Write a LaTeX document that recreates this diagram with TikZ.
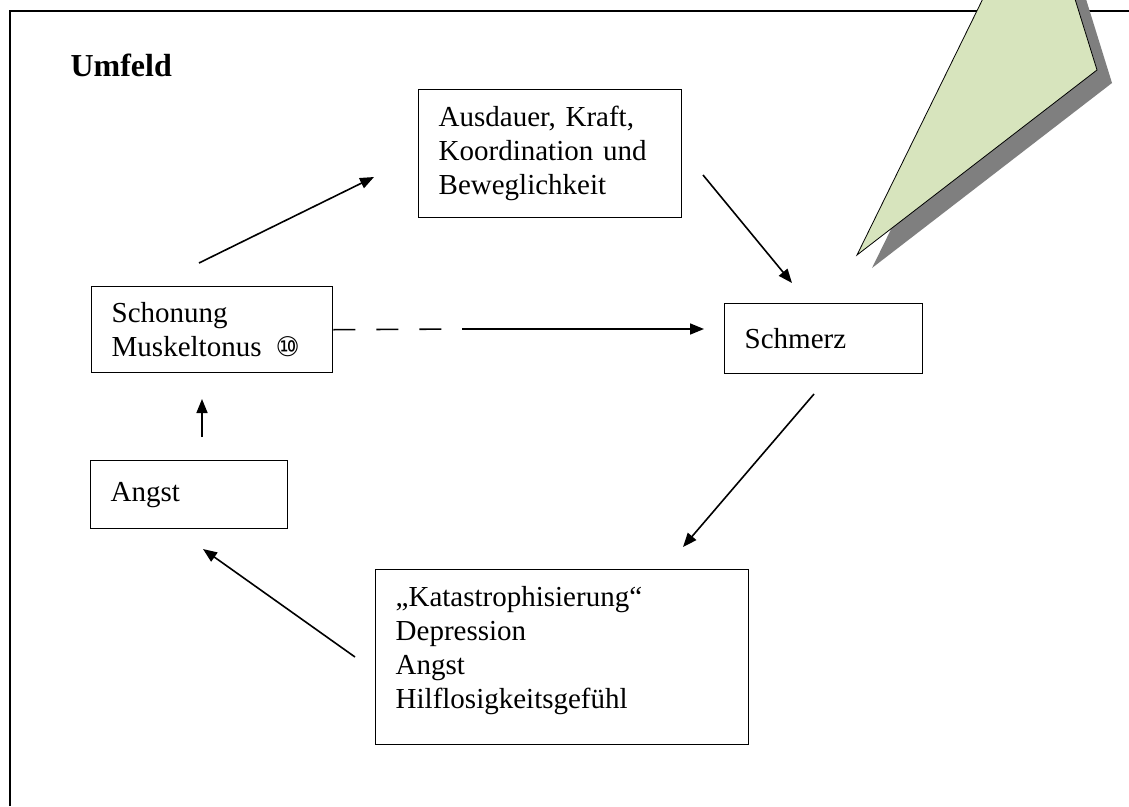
\documentclass[tikz,border=0pt]{standalone}
\usepackage{fontspec}
\setmainfont{Liberation Serif}
\newfontfamily\circledfont{DejaVu Sans}
\usepackage{xcolor}
\usepackage{tikz}
\usetikzlibrary{arrows.meta, positioning}
\definecolor{calloutgreen}{HTML}{D7E4BD}
\definecolor{shadowgray}{HTML}{7F7F7F}

\begin{document}
\begin{tikzpicture}[x=1pt, y=-1pt,
      every node/.style={font=\fontsize{29}{34}\selectfont},
      box/.style={draw, line width=1.4pt, anchor=north west, align=left, inner xsep=20pt, inner ysep=0pt},
      flow/.style={line width=1.6pt, -{Triangle[length=14pt, width=11pt]}}]
    \useasboundingbox[fill=white] (0,0) rectangle (1129,806);
    % frame
    \draw[line width=1.5pt] (10,806) -- (10,11) -- (1129,11);
    % callout wedge
    \begin{scope}
      \clip (0,0) rectangle (1129,806);
      \fill[shadowgray, shift={(15,13)}] (997,-30) -- (857,255) -- (1097,70) -- (1066,-30) -- cycle;
      \filldraw[fill=calloutgreen, draw=black, line width=0.8pt] (997,-30) -- (857,255) -- (1097,70) -- (1066,-30) -- cycle;
    \end{scope}
    \node[anchor=base west, font=\fontsize{32}{38}\selectfont\bfseries] (umfeld) at (67,76) {Umfeld};
    \node[box, text width=223pt, minimum height=128pt] (ausdauer) at (418,89) {Ausdauer, Kraft,\\Koordination und\\Beweglichkeit};
    \node[box, text width=201pt, minimum height=86pt] (schonung) at (91,286) {Schonung\\Muskeltonus\hspace{14pt}{\circledfont\fontsize{27}{34}\selectfont ⑩}};
    \node[box, text width=158pt, minimum height=70pt] (schmerz) at (724,303) {Schmerz};
    \node[box, text width=157pt, minimum height=68pt] (angst) at (90,460) {Angst};
    \node[box, text width=333pt, minimum height=175pt] (katastroph) at (375,569) {„Katastrophisierung“\\Depression\\Angst\\Hilflosigkeitsgefühl\rule[-20pt]{0pt}{20pt}};
    % free ends of the arrows
    \coordinate (schon-up) at (199,263);
    \coordinate (ausd-in) at (374,177);
    \coordinate (ausd-out) at (703,175);
    \coordinate (schm-in) at (792,283);
    \coordinate (dash-end) at (462,329);
    \coordinate (schm-left) at (704,329);
    \coordinate (schm-out) at (814,394);
    \coordinate (kat-in) at (683,547);
    \coordinate (kat-out) at (355,657);
    \coordinate (angst-in) at (203,549);
    \coordinate (angst-out) at (202,437);
    \coordinate (schon-in) at (202,399);
    \draw[flow] (schon-up) -- (ausd-in);
    \draw[flow] (ausd-out) -- (schm-in);
    \draw[line width=1.6pt, dash pattern=on 22pt off 21pt] (schonung.east) -- (dash-end);
    \draw[flow] (dash-end) -- (schm-left);
    \draw[flow] (schm-out) -- (kat-in);
    \draw[flow] (kat-out) -- (angst-in);
    \draw[flow] (angst-out) -- (schon-in);
  \end{tikzpicture}
\end{document}
